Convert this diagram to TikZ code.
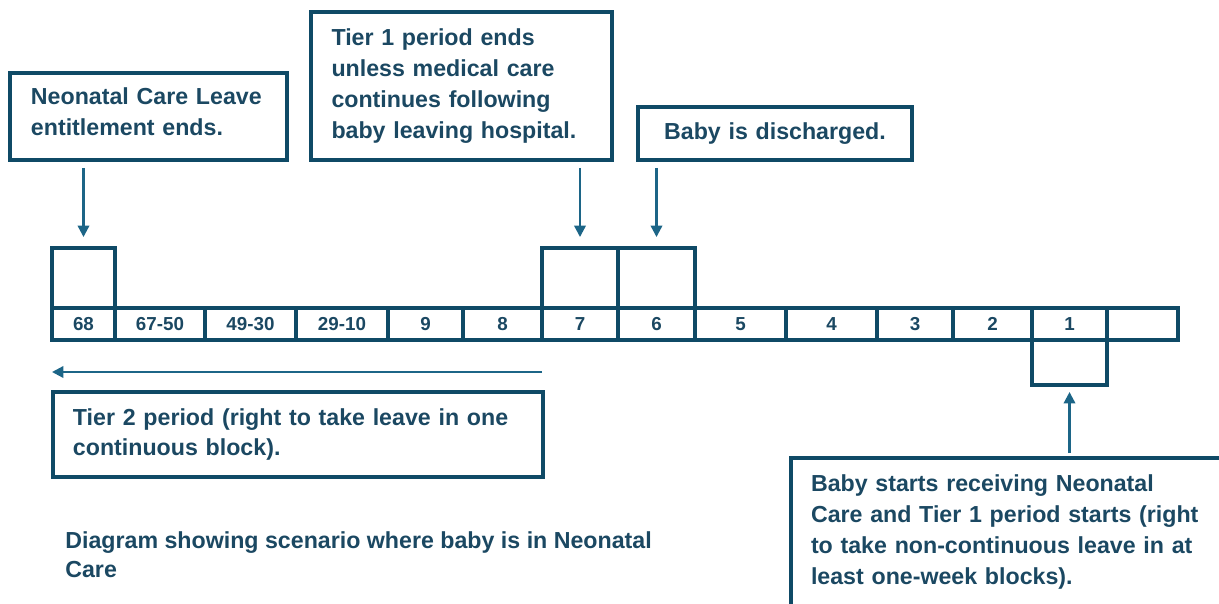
\documentclass[tikz,border=0pt]{standalone}
\usepackage{fontspec}
\setmainfont{Liberation Sans}
\usepackage{tikz}
\usetikzlibrary{positioning,arrows.meta,calc}
\definecolor{boxblue}{HTML}{0F4A66}
\definecolor{arrblue}{HTML}{1C6587}
\definecolor{txtblue}{HTML}{1B4862}

\begin{document}
\begin{tikzpicture}[
  x=0.02cm, y=-0.02cm,
  note/.style={draw=boxblue, line width=2.2pt, anchor=north west, align=left, inner xsep=0.4cm, outer sep=0pt, text=txtblue, font=\bfseries\fontsize{13.2}{17.6}\selectfont},
  cell/.style={draw=boxblue, line width=1.8pt, anchor=west, minimum height=0.64cm, inner sep=0pt, outer sep=0pt, text=txtblue, font=\bfseries\fontsize{10.7}{12}\selectfont},
  flag/.style={draw=boxblue, line width=1.8pt, inner sep=0pt, outer sep=0pt},
  arr/.style={-{Triangle[length=6.5pt,width=6.5pt]}, line width=1.3pt, draw=arrblue}
]
\path[use as bounding box, clip] (0,0) rectangle (1219,603);

% timeline of weeks
\foreach \n/\x/\w/\lab in {68/52/63/68, 6750/115/90/67-50, 4930/205/91/49-30, 2910/296/92/29-10,
    9/388/75/9, 8/463/79/8, 7/542/76/7, 6/618/77/6, 5/695/91/5, 4/786/91/4,
    3/877/76/3, 2/953/79/2, 1/1032/75/1, 0/1107/71/{}}
  \node[cell, minimum width=\w*0.02cm] (c\n) at (\x,324) {\lab};

\node[flag, anchor=south west, minimum width=63*0.02cm, minimum height=1.2cm] (u68) at (c68.north west) {};
\node[flag, anchor=south west, minimum width=76*0.02cm, minimum height=1.2cm] (u7) at (c7.north west) {};
\node[flag, anchor=south west, minimum width=77*0.02cm, minimum height=1.2cm] (u6) at (c6.north west) {};
\node[flag, anchor=north west, minimum width=75*0.02cm, minimum height=0.9cm] (b1) at (c1.south west) {};

% call-outs
\node[note, minimum width=5.54cm, minimum height=1.74cm, text width=4.7cm] (nA) at (10,73) {Neonatal Care Leave\\entitlement ends.\strut};
\node[note, minimum width=6.02cm, minimum height=2.96cm, text width=5.2cm] (nB) at (311,12) {Tier 1 period ends\\unless medical care\\continues following\\baby leaving hospital.};
\node[note, minimum width=5.48cm, minimum height=1.06cm, text width=4.6cm, align=center] (nC) at (638,107) {Baby is discharged.};
\node[note, minimum width=9.8cm, minimum height=1.7cm, text width=9cm] (nT) at (53,392) {Tier 2 period (right to take leave in one\\continuous block).};
\node[note, minimum width=9.6cm, text width=8.8cm, inner ysep=0.33cm] (nR) at (791,458) {Baby starts receiving Neonatal\\Care and Tier 1 period starts (right\\to take non-continuous leave in at\\least one-week blocks).\rule[-1cm]{0pt}{1pt}};

\draw[arr, shorten <=0.16cm, shorten >=0.22cm] (nA.south -| u68.north) -- (u68.north);
\draw[arr, shorten <=0.16cm, shorten >=0.22cm] (nB.south -| u7.north) -- (u7.north);
\draw[arr, shorten <=0.16cm, shorten >=0.22cm] (nC.south -| u6.north) -- (u6.north);
\draw[arr, shorten <=0.1cm, shorten >=0.14cm] (nR.north -| b1.south) -- (b1.south);

\coordinate (t2r) at ($(c7.south west)+(0,32)$);
\coordinate (t2l) at ($(c68.south west)+(0,32)$);
\draw[arr] (t2r) -- (t2l);

\node[anchor=north west, align=left, inner sep=0pt, text=txtblue, font=\bfseries\fontsize{13.2}{16.5}\selectfont] (cap) at (65,531) {Diagram showing scenario where baby is in Neonatal\\Care};
\end{tikzpicture}
\end{document}
